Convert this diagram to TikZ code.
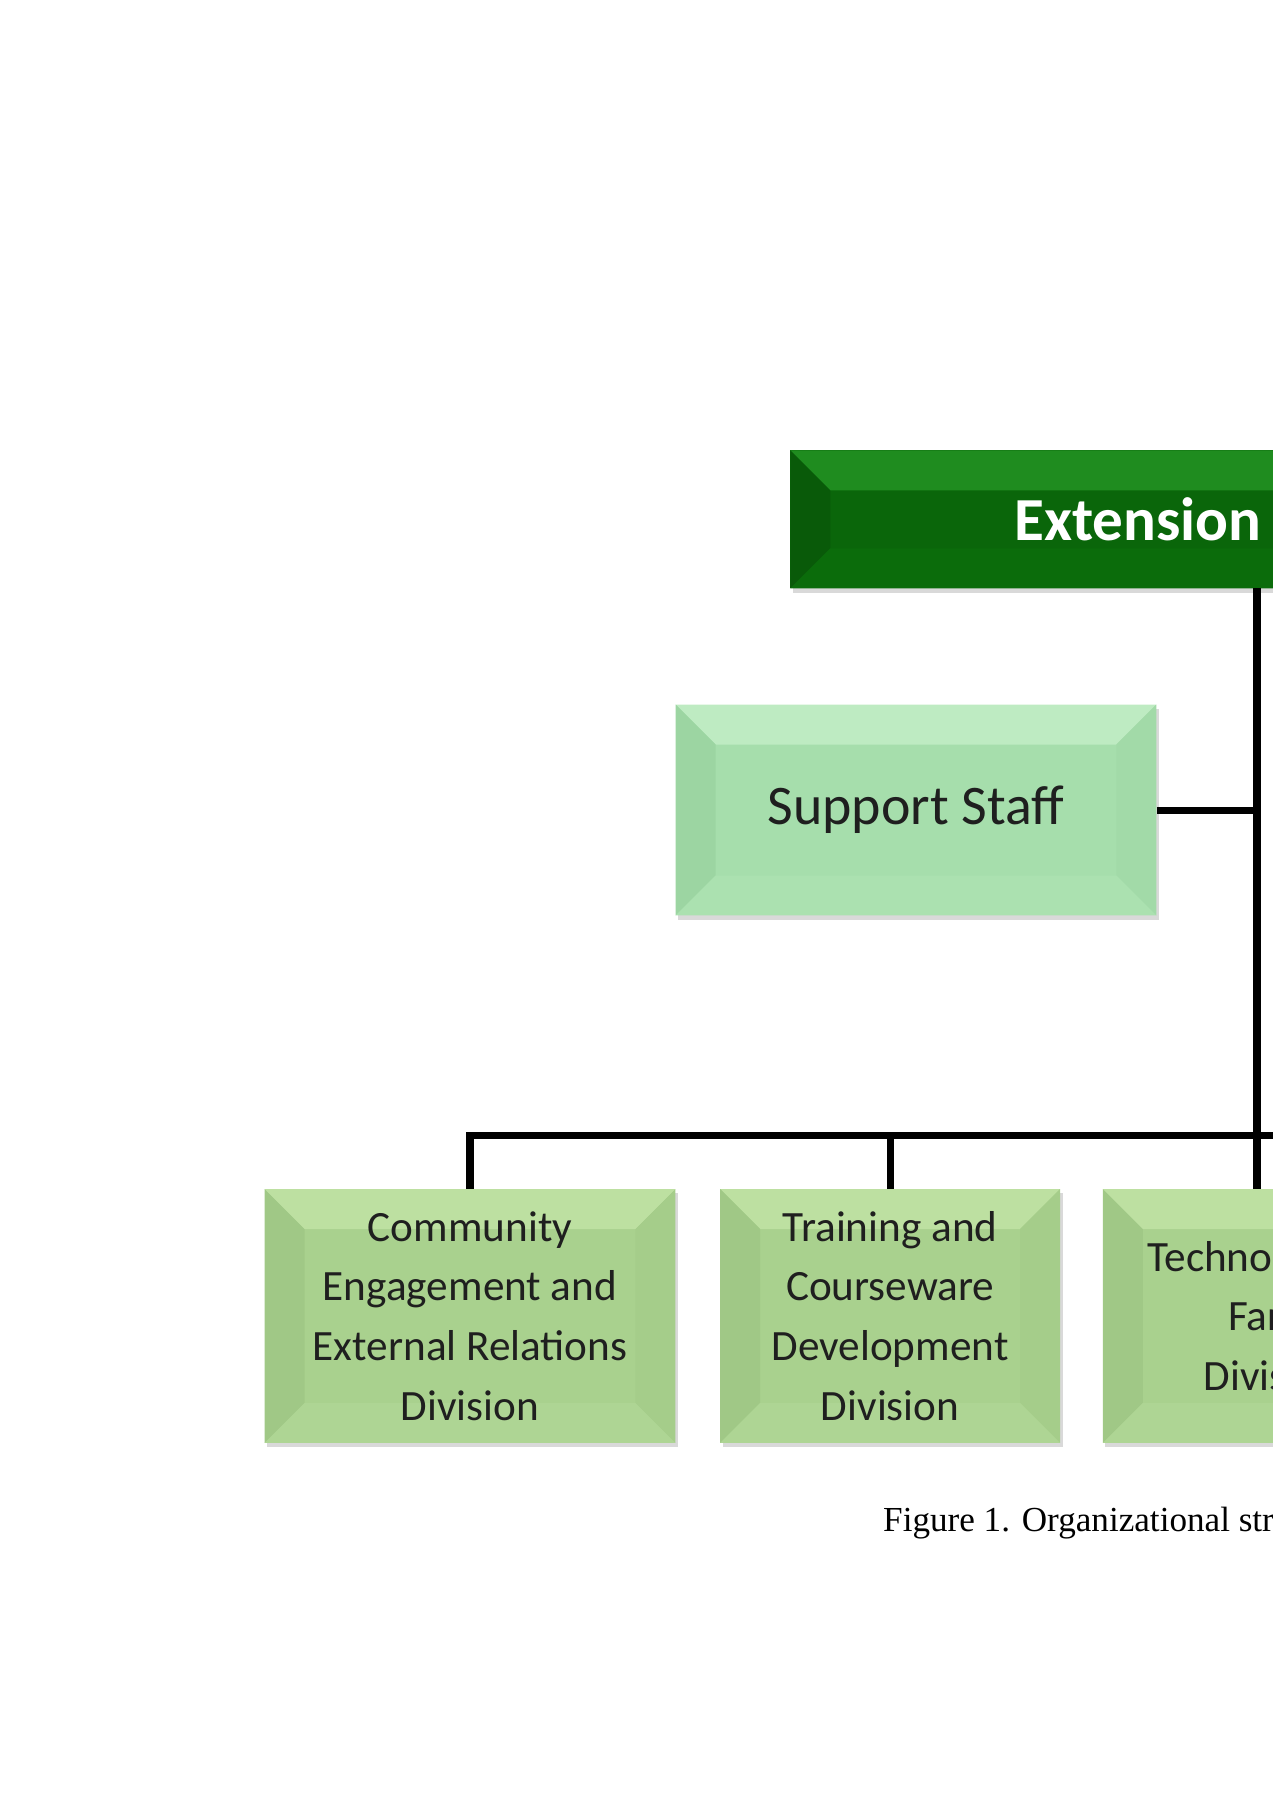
\documentclass[tikz,border=0pt]{standalone}
\usepackage{fontspec}
\setmainfont{Carlito}
\newfontfamily\capfont{Liberation Serif}
\usetikzlibrary{positioning,shadows}

\definecolor{extfill}{HTML}{0A660A}
\definecolor{exttop}{HTML}{1F8C1F}
\definecolor{extleft}{HTML}{095A09}
\definecolor{extright}{HTML}{0A620A}
\definecolor{extbot}{HTML}{0B6C0B}
\definecolor{supfill}{HTML}{A6DEAC}
\definecolor{suptop}{HTML}{BEEBC2}
\definecolor{supleft}{HTML}{9CD5A2}
\definecolor{supright}{HTML}{A2DAA8}
\definecolor{supbot}{HTML}{ABE1B0}
\definecolor{divfill}{HTML}{A9D18E}
\definecolor{divtop}{HTML}{BDE0A1}
\definecolor{divleft}{HTML}{A0C886}
\definecolor{divright}{HTML}{A5CD8A}
\definecolor{divbot}{HTML}{AED594}

\newcommand\bevw{0.8cm}

\tikzset{
  bevel/.style n args={4}{path picture={
    \fill[#1] (path picture bounding box.north west) -- (path picture bounding box.north east)
      -- ([shift={(-\bevw,-\bevw)}]path picture bounding box.north east)
      -- ([shift={(\bevw,-\bevw)}]path picture bounding box.north west) -- cycle;
    \fill[#2] (path picture bounding box.north west) -- ([shift={(\bevw,-\bevw)}]path picture bounding box.north west)
      -- ([shift={(\bevw,\bevw)}]path picture bounding box.south west)
      -- (path picture bounding box.south west) -- cycle;
    \fill[#3] (path picture bounding box.north east) -- ([shift={(-\bevw,-\bevw)}]path picture bounding box.north east)
      -- ([shift={(-\bevw,\bevw)}]path picture bounding box.south east)
      -- (path picture bounding box.south east) -- cycle;
    \fill[#4] (path picture bounding box.south west) -- ([shift={(\bevw,\bevw)}]path picture bounding box.south west)
      -- ([shift={(-\bevw,\bevw)}]path picture bounding box.south east)
      -- (path picture bounding box.south east) -- cycle;
  }}
}

\begin{document}
\begin{tikzpicture}[x=0.02cm, y=-0.02cm, node distance=0.88cm,
    link/.style = {line width=4pt},
    box/.style = {inner sep=0pt, align=center, text=black!88,
      drop shadow={shadow xshift=1.5pt, shadow yshift=-2.5pt, opacity=0.3}},
    headbox/.style = {box, fill=extfill, text=white, bevel={exttop}{extleft}{extright}{extbot},
      font=\fontsize{34.8}{40}\selectfont\bfseries},
    staffbox/.style = {box, fill=supfill, bevel={suptop}{supleft}{supright}{supbot},
      font=\fontsize{31.8}{36}\selectfont},
    divbox/.style = {box, fill=divfill, minimum height=5.08cm, minimum width=6.8cm,
      bevel={divtop}{divleft}{divright}{divbot}, font=\fontsize{24.6}{34}\selectfont}]

    \useasboundingbox (0,0) rectangle (1273,1800);
    \clip (0,0) rectangle (1273,1800);

    % boxes
    \node[headbox, anchor=north west, minimum height=2.76cm, inner xsep=4.48cm] (ext) at (790,450) {Extension};
    \node[staffbox, minimum width=9.62cm, minimum height=4.22cm] (staff) at (916,810) {Support Staff};
    \node[divbox, minimum width=8.22cm] (div1) at (470,1316) {Community\\Engagement and\\External Relations\\Division};
    \node[divbox] (div2) [right=of div1] {Training and\\Courseware\\Development\\Division};
    \node[divbox] (div3) [right=0.84cm of div2] {Techno\phantom{logy an}\\Far\phantom{m}\\Divis\phantom{ion}};

    \node[anchor=base west, font=\capfont\fontsize{20}{24}\selectfont] (cap) at (877,1531) {Figure 1. Organizational str};

    % lines
    \coordinate (trunk) at (1257,588);
    \coordinate (bus) at (1257,1135);
    \coordinate (busend) at (1320,1135);

    \draw[link] (trunk) -- (trunk |- div3.north);
    \draw[link] (staff.east) -- (staff.east -| trunk);
    \draw[link] (div1.north) |- (busend);
    \draw[link] (div2.north) -- (div2.north |- bus);
\end{tikzpicture}
\end{document}
